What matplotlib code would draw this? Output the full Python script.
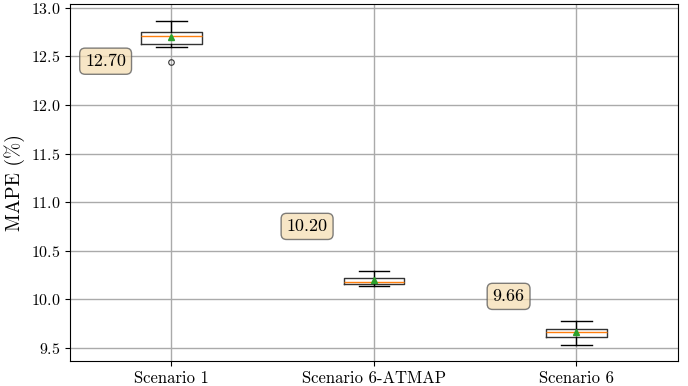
import matplotlib.pyplot as plt

plt.rcParams['font.family'] = 'cmr10'
plt.rcParams['mathtext.fontset'] = 'cm'
plt.rcParams['axes.formatter.use_mathtext'] = True

scenarios = ["Scenario 1", "Scenario 6-ATMAP", "Scenario 6"]
whislo = [12.595, 10.134, 9.526]
q1 = [12.632, 10.155, 9.615]
med = [12.712, 10.178, 9.660]
q3 = [12.750, 10.216, 9.691]
whishi = [12.863, 10.288, 9.780]
means = [12.70, 10.20, 9.66]
fliers = [[12.444], [], []]

# where each mean label sits
label_x = [0.675, 1.67, 2.665]
label_y = [12.45, 10.75, 10.03]

stats = []
for i, name in enumerate(scenarios):
    stats.append(dict(label=name, whislo=whislo[i], q1=q1[i], med=med[i],
                      q3=q3[i], whishi=whishi[i], mean=means[i], fliers=fliers[i]))

fig, ax = plt.subplots(figsize=(6.88, 3.86), dpi=100)
fig.subplots_adjust(left=0.102, right=0.985, top=0.99, bottom=0.065)

ax.bxp(stats, widths=0.3, showmeans=True,
       meanprops=dict(marker='^', markersize=5, markerfacecolor='C2',
                      markeredgecolor='C2'),
       flierprops=dict(marker='o', markersize=4, markerfacecolor='none',
                       markeredgecolor='#333333', markeredgewidth=0.8),
       boxprops=dict(color='#333333'))

for x, y, m in zip(label_x, label_y, means):
    ax.text(x, y, f"{m:.2f}", ha='center', va='center', fontsize=13,
            bbox=dict(boxstyle='round', facecolor='wheat', alpha=0.75,
                      edgecolor='#555555'))

ax.set_xlim(0.5, 3.5)
ax.set_ylim(9.366, 13.04)
ax.set_ylabel("MAPE (%)", fontsize=14)
ax.tick_params(axis='y', labelsize=11.5)
ax.tick_params(axis='x', labelsize=12)
ax.grid(True, color='#aaaaaa', linewidth=1)
ax.set_axisbelow(True)

fig.savefig("out.png", dpi=100)
